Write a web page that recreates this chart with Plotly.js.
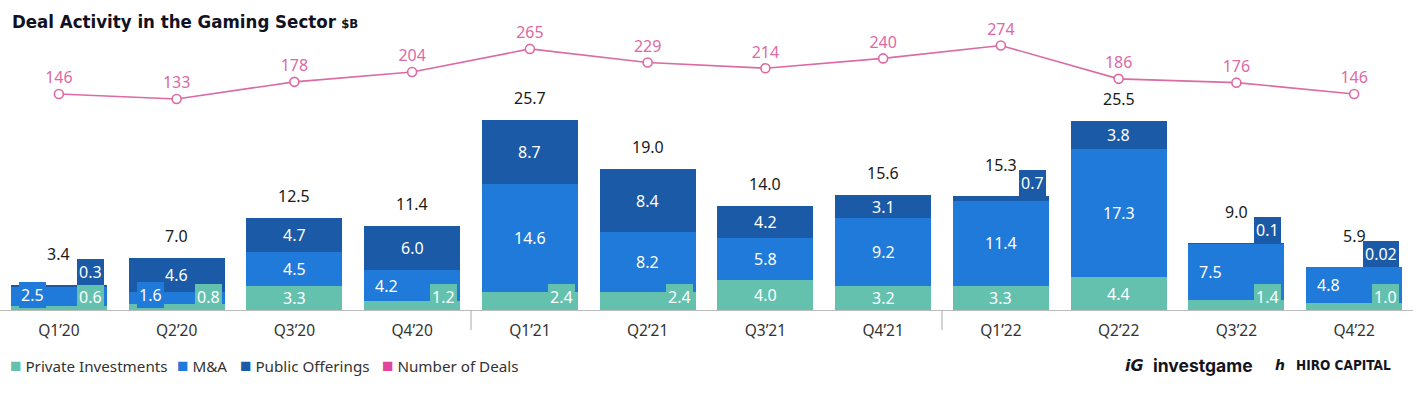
<!DOCTYPE html>
<html>
<head>
<meta charset="utf-8">
<script src="https://cdn.plot.ly/plotly-3.0.1.min.js"></script>
<style>html,body{margin:0;padding:0;background:#fff;}#chart{width:1416px;height:396px;}</style>
</head>
<body>
<div id="chart"></div>
<script>
const quarters = ["Q1’20","Q2’20","Q3’20","Q4’20","Q1’21","Q2’21","Q3’21","Q4’21","Q1’22","Q2’22","Q3’22","Q4’22"];
const privateInv = [0.6, 0.8, 3.3, 1.2, 2.4, 2.4, 4.0, 3.2, 3.3, 4.4, 1.4, 1.0];
const mna        = [2.5, 1.6, 4.5, 4.2, 14.6, 8.2, 5.8, 9.2, 11.4, 17.3, 7.5, 4.8];
const publicOff  = [0.3, 4.6, 4.7, 6.0, 8.7, 8.4, 4.2, 3.1, 0.7, 3.8, 0.1, 0.02];
const totals     = [3.4, 7.0, 12.5, 11.4, 25.7, 19.0, 14.0, 15.6, 15.3, 25.5, 9.0, 5.9];
const deals      = [146, 133, 178, 204, 265, 229, 214, 240, 274, 186, 176, 146];

const C_PI = '#63c1ae', C_MA = '#1f7ad9', C_PO = '#1a5aa6', C_DEAL = '#dc6aa3', C_DEAL_LEG = '#e0469a';
const FONT = '"Noto Sans", "Open Sans", sans-serif';

function fmt(v){ return v < 0.1 ? v.toFixed(2) : v.toFixed(1); }

const traces = [
  {type:'bar', name:'Private Investments', x:quarters, y:privateInv, marker:{color:C_PI}, hoverinfo:'skip'},
  {type:'bar', name:'M&A', x:quarters, y:mna, marker:{color:C_MA}, hoverinfo:'skip'},
  {type:'bar', name:'Public Offerings', x:quarters, y:publicOff, marker:{color:C_PO}, hoverinfo:'skip'},
  {type:'scatter', name:'Number of Deals', x:quarters, y:deals, yaxis:'y2',
   mode:'lines+markers+text', text:deals.map(String), textposition:'top center',
   textfont:{family:FONT, size:16, color:C_DEAL},
   line:{color:C_DEAL, width:1.6},
   marker:{symbol:'circle', size:9, color:'#ffffff', line:{color:C_DEAL, width:1.6}},
   cliponaxis:false, hoverinfo:'skip'}
];

const ann = [];
const segFont = {family:FONT, size:16, color:'#ffffff'};
function box(color){ return {bgcolor:color, bordercolor:color, borderwidth:0, borderpad:2}; }
quarters.forEach((q,i)=>{
  const p = privateInv[i], m = mna[i], o = publicOff[i];
  const smallP = p < 3, smallO = o < 1;
  // Private investments
  if (smallP) ann.push(Object.assign({x:q, y:0, yanchor:'bottom', xanchor:'right', xshift:45, text:fmt(p), showarrow:false, font:segFont}, box(C_PI)));
  else ann.push({x:q, y:p/2, yanchor:'middle', text:fmt(p), showarrow:false, font:segFont});
  // M&A
  if (smallP && m < 8) ann.push(Object.assign({x:q, y:Math.max(p + m/2, 2.0), yanchor:'middle', xanchor:'center', xshift:-26, text:fmt(m), showarrow:false, font:segFont}, box(C_MA)));
  else ann.push({x:q, y:p + m/2, yanchor:'middle', text:fmt(m), showarrow:false, font:segFont});
  // Public offerings
  const top = p + m + o;
  if (smallO) ann.push(Object.assign({x:q, y:top, yanchor:'bottom', xanchor:'right', xshift:45, text:fmt(o), showarrow:false, font:segFont}, box(C_PO)));
  else ann.push({x:q, y:p + m + o/2, yanchor:'middle', text:fmt(o), showarrow:false, font:segFont});
  // Total
  ann.push({x:q, y:top, yanchor:'bottom', yshift: smallO ? 18 : 9, text:fmt(totals[i]), showarrow:false, font:{family:FONT, size:16, color:'#1a1a1a'}});
});

// custom legend (paper coords, plot spans 0..1413 px horizontally)
const W = 1413;
const LY = -55/270;
const legendItems = [
  {label:'Private Investments', color:C_PI, px:8},
  {label:'M&A', color:C_MA, px:175},
  {label:'Public Offerings', color:C_PO, px:238},
  {label:'Number of Deals', color:C_DEAL_LEG, px:380}
];
legendItems.forEach(it=>{
  ann.push({xref:'paper', yref:'paper', x:it.px/W, y:LY, xanchor:'left', yanchor:'middle', showarrow:false,
    text:'<span style="color:'+it.color+';font-size:19px">■</span> '+it.label, font:{family:FONT, size:15.2, color:'#333333'}});
});
// logos as text
ann.push({xref:'paper', yref:'paper', x:1123/W, y:LY, xanchor:'left', yanchor:'middle', showarrow:false,
  text:'<b><i>iG</i></b>', font:{family:'"DejaVu Sans", sans-serif', size:16, color:'#15151f'}});
ann.push({xref:'paper', yref:'paper', x:1151/W, y:LY, xanchor:'left', yanchor:'middle', showarrow:false,
  text:'<b>investgame</b>', font:{family:'Inter, "Noto Sans", sans-serif', size:17.5, color:'#15151f'}});
ann.push({xref:'paper', yref:'paper', x:1273/W, y:LY, xanchor:'left', yanchor:'middle', showarrow:false,
  text:'<b><i>h</i></b>', font:{family:'"DejaVu Sans", sans-serif', size:14, color:'#15151f'}});
ann.push({xref:'paper', yref:'paper', x:1393/W, y:LY, xanchor:'right', yanchor:'middle', showarrow:false,
  text:'<b>HIRO CAPITAL</b>', font:{family:'"DejaVu Sans Condensed", "DejaVu Sans", sans-serif', size:13.5, color:'#15151f'}});

const shapes = [3.5, 7.5].map(v=>({type:'line', xref:'x', yref:'paper', x0:v, x1:v, y0:0, y1:-20/270, line:{color:'#aaaaaa', width:1}}));

const layout = {
  width:1416, height:396,
  margin:{l:0, r:3, t:40, b:86},
  paper_bgcolor:'#ffffff', plot_bgcolor:'#ffffff',
  barmode:'stack', bargap:0.185,
  showlegend:false,
  font:{family:FONT},
  title:{text:'<b>Deal Activity in the Gaming Sector</b> <b><span style="font-size:13px">$B</span></b>',
    x:12/1416, xanchor:'left', y:1-22/396, yanchor:'middle',
    font:{family:'"DejaVu Sans Condensed", "Roboto", sans-serif', size:18.5, color:'#111122'}},
  xaxis:{type:'category', range:[-0.5, 11.5], showline:true, linecolor:'#bbbbbb', linewidth:1,
    ticks:'outside', ticklen:6, tickcolor:'rgba(0,0,0,0)', showgrid:false, zeroline:false,
    tickfont:{family:FONT, size:15.5, color:'#333333'}, fixedrange:true},
  yaxis:{range:[0, 36.5], visible:false, showgrid:false, zeroline:false, fixedrange:true},
  yaxis2:{range:[-424, 288.5], overlaying:'y', visible:false, showgrid:false, zeroline:false, fixedrange:true},
  annotations:ann,
  shapes:shapes
};

Plotly.newPlot('chart', traces, layout, {displayModeBar:false, staticPlot:true});
</script>
</body>
</html>
